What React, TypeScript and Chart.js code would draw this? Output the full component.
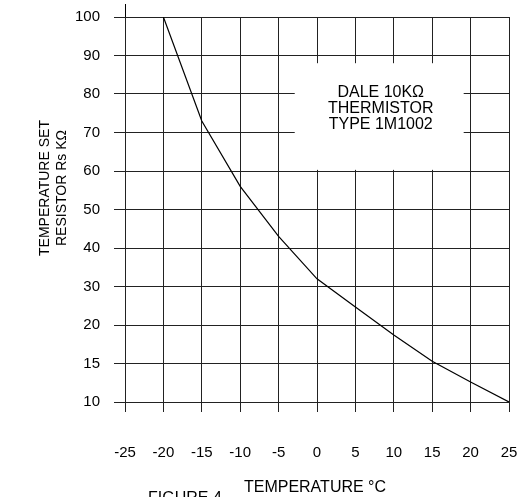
import React, { useEffect, useRef } from "react";
import { Chart, registerables } from "chart.js";

Chart.register(...registerables);

// ---- data ----
const temperatures = [-20, -15, -10, -5, 0, 5, 10, 15, 20, 25];
const resistanceK = [100, 73, 56, 43, 32, 24.7, 18.7, 15.3, 12.6, 10];
const yTickValues = [10, 15, 20, 30, 40, 50, 60, 70, 80, 90, 100];
const xMin = -25;
const xMax = 25;
const xStep = 5;
const noteLines = ["DALE 10KΩ", "THERMISTOR", "TYPE 1M1002"];
const yTitleLines = ["TEMPERATURE SET", "RESISTOR Rs KΩ"];
const xTitle = "TEMPERATURE °C";
const figureLabel = "FIGURE 4";

const FONT = "'Liberation Sans', Arial, sans-serif";

// the y axis is graduated with equally spaced (non-uniform) values
function valueToIndex(v: number): number {
  for (let i = 0; i < yTickValues.length - 1; i++) {
    const a = yTickValues[i];
    const b = yTickValues[i + 1];
    if (v >= a && v <= b) return i + (v - a) / (b - a);
  }
  return v < yTickValues[0] ? 0 : yTickValues.length - 1;
}

const decorPlugin = {
  id: "decor",
  beforeDatasetsDraw(chart: any) {
    const { ctx, scales } = chart;
    const x = scales.x;
    const y = scales.y;
    // white label box that interrupts the grid
    const l = x.getPixelForValue(-2.9);
    const r = x.getPixelForValue(19.1);
    const t = y.getPixelForValue(8.8);
    const b = y.getPixelForValue(6.03);
    ctx.save();
    ctx.fillStyle = "#fff";
    ctx.fillRect(l, t, r - l, b - t);
    ctx.fillStyle = "#000";
    ctx.font = `16px ${FONT}`;
    ctx.textAlign = "center";
    ctx.textBaseline = "middle";
    const cx = x.getPixelForValue(8.3);
    noteLines.forEach((s, i) => ctx.fillText(s, cx, 93 + i * 16));
    ctx.restore();
  },
  afterDraw(chart: any) {
    const { ctx, chartArea } = chart;
    ctx.save();
    // left axis extends above the grid
    ctx.strokeStyle = "#000";
    ctx.lineWidth = 1;
    ctx.beginPath();
    ctx.moveTo(Math.round(chartArea.left) + 0.5, 4);
    ctx.lineTo(Math.round(chartArea.left) + 0.5, chartArea.top);
    ctx.stroke();

    ctx.fillStyle = "#000";
    ctx.font = `14px ${FONT}`;
    ctx.textBaseline = "middle";
    // y title (rotated, two lines)
    ctx.save();
    ctx.translate(45, 188);
    ctx.rotate(-Math.PI / 2);
    ctx.textAlign = "center";
    yTitleLines.forEach((s, i) => ctx.fillText(s, 0, i * 17));
    ctx.restore();
    // x title
    ctx.font = `16px ${FONT}`;
    ctx.textAlign = "center";
    ctx.fillText(xTitle, 315, 488);
    ctx.textAlign = "left";
    ctx.fillText(figureLabel, 148, 499);
    ctx.restore();
  },
};

export default function App() {
  const ref = useRef<HTMLCanvasElement | null>(null);

  useEffect(() => {
    if (!ref.current) return;
    const points = temperatures.map((t, i) => ({ x: t, y: valueToIndex(resistanceK[i]) }));
    const chart = new Chart(ref.current, {
      type: "line",
      data: {
        datasets: [
          {
            data: points,
            borderColor: "#000",
            borderWidth: 1.2,
            pointRadius: 0,
            tension: 0,
            fill: false,
          },
        ],
      },
      options: {
        animation: false,
        responsive: false,
        devicePixelRatio: 1,
        layout: { padding: { left: 0, top: 17, right: 15, bottom: 0 } },
        plugins: { legend: { display: false }, tooltip: { enabled: false }, title: { display: false } },
        scales: {
          x: {
            type: "linear",
            min: xMin,
            max: xMax,
            afterFit: (s: any) => {
              s.height = 95;
              s.paddingLeft = 0;
              s.paddingRight = 0;
            },
            ticks: {
              stepSize: xStep,
              color: "#000",
              padding: 32,
              maxRotation: 0,
              font: { family: FONT, size: 15 },
            },
            grid: { color: "#222", lineWidth: 1, tickLength: 10, drawTicks: true },
            border: { color: "#222", width: 1 },
          },
          y: {
            type: "linear",
            min: 0,
            max: yTickValues.length - 1,
            afterFit: (s: any) => {
              s.width = 125;
              s.paddingTop = 0;
              s.paddingBottom = 0;
            },
            ticks: {
              stepSize: 1,
              color: "#000",
              padding: 14,
              font: { family: FONT, size: 15 },
              callback: (v: any) => String(yTickValues[Math.round(Number(v))] ?? ""),
            },
            grid: { color: "#222", lineWidth: 1, tickLength: 11, drawTicks: true },
            border: { color: "#222", width: 1 },
          },
        },
      },
      plugins: [decorPlugin],
    });
    return () => chart.destroy();
  }, []);

  return (
    <div style={{ position: "fixed", left: 0, top: 0, width: 524, height: 497, background: "#fff" }}>
      <canvas ref={ref} width={524} height={497} style={{ display: "block" }} />
    </div>
  );
}
